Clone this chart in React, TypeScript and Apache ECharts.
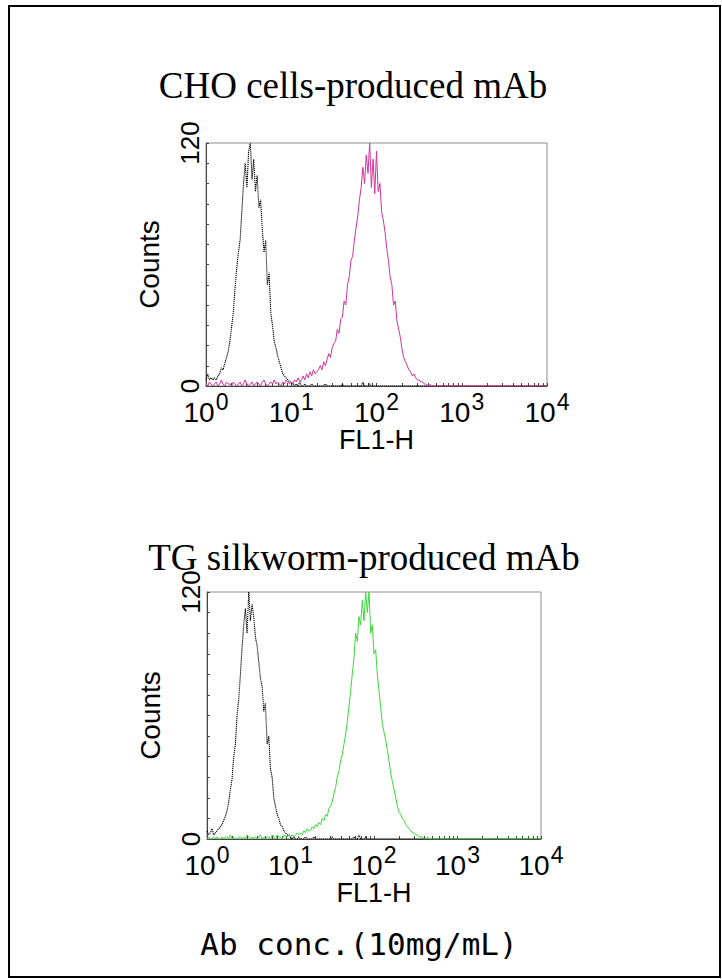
import React, { useEffect, useRef } from 'react';
import * as echarts from 'echarts';

// FL1-H bins, in decades (log10 of FL1-H)
const binDecades = [
  0, 0.02, 0.04, 0.06, 0.08, 0.1, 0.12, 0.14, 0.16, 0.18,
  0.2, 0.22, 0.24, 0.26, 0.28, 0.3, 0.32, 0.34, 0.36, 0.38,
  0.4, 0.42, 0.44, 0.46, 0.48, 0.5, 0.52, 0.54, 0.56, 0.58,
  0.6, 0.62, 0.64, 0.66, 0.68, 0.7, 0.72, 0.74, 0.76, 0.78,
  0.8, 0.82, 0.84, 0.86, 0.88, 0.9, 0.92, 0.94, 0.96, 0.98,
  1.0, 1.02, 1.04, 1.06, 1.08, 1.1, 1.12, 1.14, 1.16, 1.18,
  1.2, 1.22, 1.24, 1.26, 1.28, 1.3, 1.32, 1.34, 1.36, 1.38,
  1.4, 1.42, 1.44, 1.46, 1.48, 1.5, 1.52, 1.54, 1.56, 1.58,
  1.6, 1.62, 1.64, 1.66, 1.68, 1.7, 1.72, 1.74, 1.76, 1.78,
  1.8, 1.82, 1.84, 1.86, 1.88, 1.9, 1.92, 1.94, 1.96, 1.98,
  2.0, 2.02, 2.04, 2.06, 2.08, 2.1, 2.12, 2.14, 2.16, 2.18,
  2.2, 2.22, 2.24, 2.26, 2.28, 2.3, 2.32, 2.34, 2.36, 2.38,
  2.4, 2.42, 2.44, 2.46, 2.48, 2.5, 2.52, 2.54, 2.56, 2.58,
  2.6, 2.62, 2.64, 2.66, 2.68, 2.7,
];

const blackTop = [
  3, 6, 3, 4, 3, 4, 3, 5, 6, 9,
  8, 11, 14, 17, 22, 29, 36, 48, 58, 66,
  72, 86, 100, 110, 98, 116, 120, 102, 112, 96,
  104, 88, 92, 78, 66, 72, 50, 56, 36, 30,
  22, 19, 15, 12, 9, 6, 5, 4, 3, 2,
  2, 1, 0, 1, 0, 2, 0, 0, 1, 0,
  0, 0, 1, 0, 0, 0, 0, 0, 0, 0,
  1, 0, 0, 0, 0, 0, 0, 0, 0, 0,
  1, 0, 0, 0, 0, 0, 0, 0, 0, 0,
  0, 0, 2, 0, 0, 0, 1, 0, 0, 0,
  0, 0, 0, 0, 0, 0, 0, 0, 0, 0,
  0, 0, 0, 0, 0, 0, 0, 0, 0, 0,
  0, 0, 0, 0, 0, 0, 0, 0, 0, 0,
  0, 0, 0, 0, 0, 0,
];

const magentaTop = [
  1, 0, 2, 1, 0, 1, 2, 0, 1, 3,
  1, 0, 2, 1, 1, 0, 2, 1, 0, 1,
  2, 0, 1, 3, 1, 0, 1, 2, 0, 1,
  2, 1, 0, 2, 3, 1, 0, 1, 2, 1,
  3, 1, 2, 1, 0, 2, 1, 3, 2, 1,
  2, 1, 3, 2, 4, 2, 3, 5, 3, 6,
  4, 7, 5, 8, 6, 7, 8, 10, 8, 12,
  10, 13, 16, 14, 19, 21, 22, 28, 26, 33,
  34, 42, 40, 50, 54, 62, 64, 72, 78, 84,
  92, 98, 108, 100, 114, 105, 120, 98, 112, 95,
  116, 96, 100, 86, 82, 76, 68, 62, 54, 50,
  40, 42, 32, 28, 24, 18, 14, 12, 10, 8,
  7, 5, 6, 4, 3, 3, 2, 2, 1, 1,
  0, 1, 0, 0, 0, 0,
];

const blackBottom = [
  4, 2, 3, 5, 2, 3, 4, 5, 6, 7,
  9, 11, 14, 18, 24, 29, 40, 46, 60, 68,
  80, 93, 104, 112, 100, 120, 106, 114, 108, 98,
  94, 86, 78, 74, 62, 66, 46, 50, 34, 30,
  20, 16, 12, 10, 7, 6, 4, 3, 2, 2,
  1, 0, 1, 0, 0, 1, 0, 0, 0, 1,
  0, 0, 0, 0, 1, 0, 0, 0, 0, 0,
  0, 0, 0, 0, 0, 1, 0, 0, 0, 0,
  0, 0, 0, 0, 0, 0, 0, 0, 1, 0,
  0, 2, 0, 0, 0, 1, 0, 0, 0, 0,
  0, 0, 0, 0, 0, 0, 0, 0, 0, 0,
  0, 0, 0, 0, 0, 0, 0, 0, 0, 0,
  0, 0, 0, 0, 0, 0, 0, 0, 0, 0,
  0, 0, 0, 0, 0, 0,
];

const greenBottom = [
  0, 1, 0, 0, 1, 0, 1, 0, 0, 1,
  0, 1, 1, 0, 2, 0, 1, 0, 0, 1,
  1, 0, 1, 0, 2, 1, 0, 1, 0, 1,
  0, 1, 2, 0, 1, 0, 1, 1, 0, 2,
  1, 0, 2, 1, 1, 0, 2, 1, 1, 2,
  1, 2, 1, 2, 3, 2, 3, 2, 4, 3,
  5, 4, 4, 6, 5, 7, 6, 8, 7, 10,
  9, 12, 11, 15, 16, 18, 22, 25, 30, 33,
  38, 41, 46, 51, 57, 64, 72, 80, 88, 100,
  96, 108, 104, 116, 106, 120, 110, 120, 100, 104,
  90, 92, 80, 72, 64, 56, 52, 48, 43, 38,
  32, 28, 24, 20, 16, 13, 12, 10, 9, 7,
  6, 5, 4, 3, 3, 2, 2, 1, 1, 1,
  0, 0, 1, 0, 0, 0,
];

const xLabelValues = [1, 10, 100, 1000, 10000];
const xTickValues = [
  1, 2, 3, 4, 5, 6, 7, 8, 9,
  10, 20, 30, 40, 50, 60, 70, 80, 90,
  100, 200, 300, 400, 500, 600, 700, 800, 900,
  1000, 2000, 3000, 4000, 5000, 6000, 7000, 8000, 9000,
  10000,
];
const yLabelValues = [0, 120];
const panelTitles = ['CHO cells-produced mAb', 'TG silkworm-produced mAb'];
const xAxisName = 'FL1-H';
const yAxisName = 'Counts';
const footerText = 'Ab conc.(10mg/mL)';

function toPoints(counts: number[]) {
  const pts = binDecades.map((d, i) => [Math.pow(10, d), counts[i]]);
  pts.push([10000, 0]);
  return pts;
}

const AXIS_COLOR = '#444';
const SANS = 'Liberation Sans, Arial, sans-serif';

function makeX(gridIndex: number, nameGap: number) {
  return {
    type: 'log',
    logBase: 10,
    gridIndex,
    min: 1,
    max: 10000,
    name: xAxisName,
    nameLocation: 'middle',
    nameGap,
    nameMoveOverlap: false,
    nameTextStyle: { fontFamily: SANS, fontSize: 27, color: '#000' },
    axisLine: { show: true, lineStyle: { color: AXIS_COLOR, width: 1 } },
    axisTick: { show: true, inside: true, length: 3, customValues: xTickValues, lineStyle: { color: AXIS_COLOR } },
    minorTick: { show: false },
    splitLine: { show: false },
    axisLabel: {
      customValues: xLabelValues,
      margin: 4,
      showMinLabel: true,
      showMaxLabel: true,
      formatter: (v: number) => `{b|10}{s|${Math.round(Math.log10(v))}}`,
      rich: {
        b: { fontFamily: SANS, fontSize: 28, color: '#000', verticalAlign: 'bottom', lineHeight: 36 },
        s: { fontFamily: SANS, fontSize: 23, color: '#000', verticalAlign: 'top', lineHeight: 22, padding: [0, 0, 0, 1] },
      },
    },
  };
}

function makeY(gridIndex: number) {
  return {
    type: 'value',
    gridIndex,
    min: 0,
    max: 120,
    interval: 10,
    name: yAxisName,
    nameLocation: 'middle',
    nameGap: 43,
    nameRotate: 90,
    nameMoveOverlap: false,
    nameTextStyle: { fontFamily: SANS, fontSize: 28, color: '#000' },
    axisLine: { show: true, lineStyle: { color: AXIS_COLOR, width: 1 } },
    axisTick: { show: true, inside: true, length: 3, lineStyle: { color: AXIS_COLOR } },
    splitLine: { show: false },
    axisLabel: {
      customValues: yLabelValues,
      rotate: 90,
      margin: 3,
      fontFamily: SANS,
      fontSize: 26,
      color: '#000',
      showMinLabel: true,
      showMaxLabel: true,
    },
  };
}

function line(data: number[][], xi: number, color: string, type: any, width: number) {
  return {
    type: 'line',
    xAxisIndex: xi,
    yAxisIndex: xi,
    data,
    showSymbol: false,
    symbol: 'none',
    silent: true,
    clip: true,
    lineStyle: { color, width, type },
  };
}

export default function App() {
  const ref = useRef<HTMLDivElement>(null);
  useEffect(() => {
    if (!ref.current) return;
    const chart = echarts.init(ref.current, null, { renderer: 'svg' });
    chart.setOption({
      animation: false,
      backgroundColor: '#fff',
      grid: [
        { left: 206, top: 143, width: 341, height: 243, show: true, borderColor: '#8c8c8c', borderWidth: 1, backgroundColor: 'transparent', outerBoundsMode: 'none', containLabel: false },
        { left: 207, top: 592, width: 334, height: 247, show: true, borderColor: '#8c8c8c', borderWidth: 1, backgroundColor: 'transparent', outerBoundsMode: 'none', containLabel: false },
      ],
      xAxis: [makeX(0, 40), makeX(1, 40)],
      yAxis: [makeY(0), makeY(1)],
      series: [
        line(toPoints(blackTop), 0, '#000', [1.2, 0.8], 1.1),
        line(toPoints(magentaTop), 0, '#d4339c', 'solid', 1),
        line(toPoints(blackBottom), 1, '#000', [1.2, 0.8], 1.1),
        line(toPoints(greenBottom), 1, '#3cd83c', 'solid', 1),
      ],
      graphic: [
        { type: 'rect', shape: { x: 9, y: 6, width: 711, height: 971 }, style: { fill: 'none', stroke: '#000', lineWidth: 2 }, silent: true },
        { type: 'text', x: 353, y: 85, style: { text: panelTitles[0], fontFamily: 'Liberation Serif, Times New Roman, serif', fontSize: 37, fill: '#000', align: 'center', verticalAlign: 'middle' } },
        { type: 'text', x: 364, y: 557, style: { text: panelTitles[1], fontFamily: 'Liberation Serif, Times New Roman, serif', fontSize: 37, fill: '#000', align: 'center', verticalAlign: 'middle' } },
        { type: 'text', x: 359, y: 944, style: { text: footerText, fontFamily: 'DejaVu Sans Mono, monospace', fontSize: 31, fill: '#000', align: 'center', verticalAlign: 'middle' } },
      ],
    });
    return () => chart.dispose();
  }, []);
  return <div ref={ref} style={{ position: 'absolute', left: 0, top: 0, width: 722, height: 979 }} />;
}
